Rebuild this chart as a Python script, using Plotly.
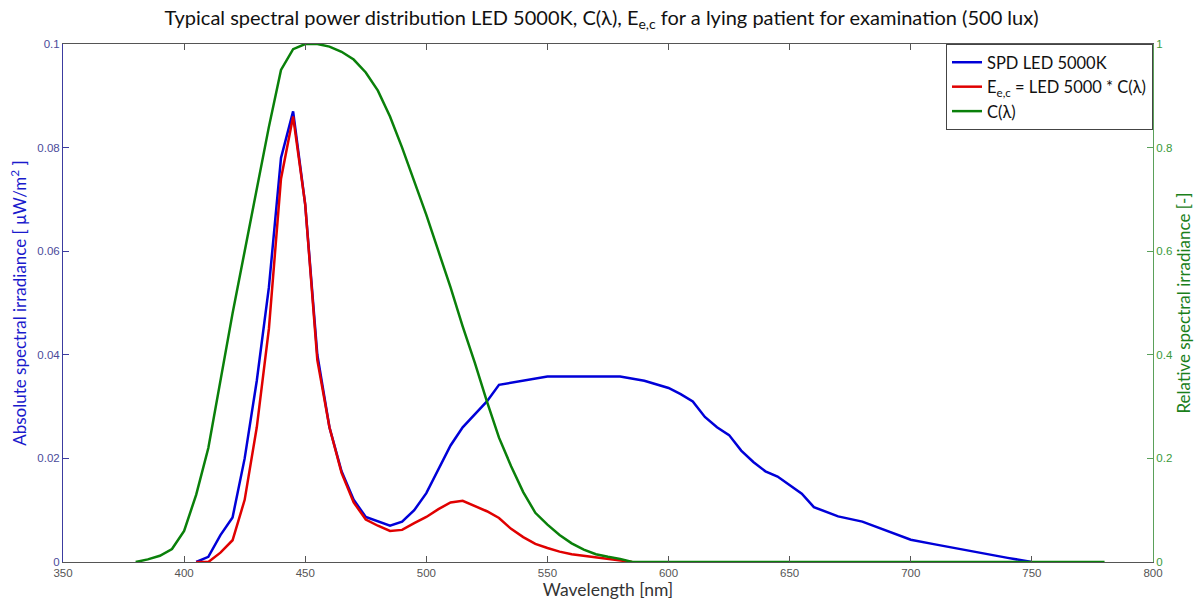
import plotly.graph_objects as go

# Wavelength grids
wl_spd = [405, 410, 415, 420, 425, 430, 435, 440, 445, 450, 455, 460, 465, 470, 475, 480, 485, 490,
          495, 500, 505, 510, 515, 520, 525, 530, 535, 540, 545, 550, 560, 570, 580, 590, 600, 605,
          610, 615, 620, 625, 630, 635, 640, 645, 650, 655, 660, 670, 680, 690, 700, 710, 720, 730,
          740, 750]
spd = [0.0, 0.001, 0.0052, 0.0086, 0.020, 0.035, 0.053, 0.078, 0.087, 0.069, 0.040, 0.026, 0.0175,
       0.012, 0.0087, 0.0078, 0.007, 0.0078, 0.010, 0.0133, 0.018, 0.0225, 0.026, 0.0284, 0.031,
       0.0342, 0.0346, 0.035, 0.0355, 0.0358, 0.0358, 0.0358, 0.0358, 0.035, 0.0336, 0.0324, 0.031,
       0.028, 0.026, 0.0245, 0.0215, 0.0193, 0.0175, 0.0165, 0.0148, 0.0132, 0.0106, 0.0088, 0.0078,
       0.006, 0.0043, 0.0034, 0.0025, 0.0016, 0.0008, 0.0]

wl_ec = [405, 410, 415, 420, 425, 430, 435, 440, 445, 450, 455, 460, 465, 470, 475, 480, 485, 490,
         495, 500, 505, 510, 515, 520, 525, 530, 535, 540, 545, 550, 555, 560, 565, 570, 575, 580, 585]
ec = [0.0, 0.0, 0.0018, 0.0042, 0.012, 0.026, 0.045, 0.074, 0.086, 0.069, 0.039, 0.026, 0.0172,
      0.0115, 0.0082, 0.007, 0.006, 0.0062, 0.0075, 0.0087, 0.0102, 0.0115, 0.0118, 0.0108, 0.0098,
      0.0085, 0.0064, 0.0048, 0.0035, 0.0027, 0.002, 0.0015, 0.0012, 0.0009, 0.0006, 0.0003, 0.0]

wl_c = [380, 385, 390, 395, 400, 405, 410, 415, 420, 425, 430, 435, 440, 445, 450, 455, 460, 465,
        470, 475, 480, 485, 490, 495, 500, 505, 510, 515, 520, 525, 530, 535, 540, 545, 550, 555,
        560, 565, 570, 575, 580, 585, 600, 650, 700, 750, 780]
c_lambda = [0.0, 0.005, 0.012, 0.025, 0.06, 0.13, 0.22, 0.35, 0.48, 0.6, 0.72, 0.84, 0.95, 0.99,
            1.0, 1.0, 0.995, 0.985, 0.97, 0.945, 0.91, 0.86, 0.8, 0.735, 0.67, 0.6, 0.53, 0.455,
            0.385, 0.31, 0.24, 0.185, 0.135, 0.095, 0.072, 0.052, 0.036, 0.024, 0.015, 0.01, 0.006,
            0.0, 0.0, 0.0, 0.0, 0.0, 0.0]

x_ticks = [350, 400, 450, 500, 550, 600, 650, 700, 750, 800]
y1_ticks = [0, 0.02, 0.04, 0.06, 0.08, 0.1]
y1_labels = ["0", "0.02", "0.04", "0.06", "0.08", "0.1"]
y2_ticks = [0, 0.2, 0.4, 0.6, 0.8, 1]
y2_labels = ["0", "0.2", "0.4", "0.6", "0.8", "1"]

BLUE = "#0000d8"
RED = "#e00000"
GREEN = "#0a800a"
TXT_FONT = "Lato, 'Open Sans', sans-serif"
TICK_FONT = "'Liberation Sans', Arial, sans-serif"

fig = go.Figure()
fig.add_trace(go.Scatter(x=wl_spd, y=spd, mode="lines", name="SPD LED 5000K",
                         line=dict(color=BLUE, width=2.5)))
fig.add_trace(go.Scatter(x=wl_ec, y=ec, mode="lines", name="E<sub>e,c</sub> = LED 5000 * C(λ)",
                         line=dict(color=RED, width=2.5)))
fig.add_trace(go.Scatter(x=wl_c, y=c_lambda, mode="lines", name="C(λ)", yaxis="y2",
                         line=dict(color=GREEN, width=2.5)))

fig.update_layout(
    width=1203, height=602,
    paper_bgcolor="white", plot_bgcolor="white",
    margin=dict(l=63, r=50, t=44, b=40),
    title=dict(text="Typical spectral power distribution LED 5000K, C(λ), E<sub>e,c</sub> for a lying patient for examination (500 lux)",
               x=0.5, xanchor="center", y=0.97, yanchor="middle",
               font=dict(family=TXT_FONT, size=20, color="#111")),
    xaxis=dict(range=[350, 800], tickvals=x_ticks, ticks="inside", ticklen=6, automargin=False,
               tickcolor="#555", showline=True, linecolor="#555", linewidth=1, mirror="ticks",
               showgrid=False, zeroline=False,
               tickfont=dict(family=TICK_FONT, size=11.5, color="#555"),
               title=dict(text="Wavelength [nm]", standoff=0,
                          font=dict(family=TXT_FONT, size=17.5, color="#333"))),
    yaxis=dict(range=[0, 0.1], tickvals=y1_ticks, ticktext=y1_labels, ticks="inside", ticklen=6,
               automargin=False,
               tickcolor="#3c3ca0", showline=True, linecolor="#3c3ca0", linewidth=1,
               showgrid=False, zeroline=False,
               tickfont=dict(family=TICK_FONT, size=11.5, color="#4a4a9a"),
               title=dict(text="Absolute spectral irradiance [ μW/m<sup>2</sup> ]", standoff=6,
                          font=dict(family=TXT_FONT, size=17, color="#1a1acc"))),
    yaxis2=dict(range=[0, 1], tickvals=y2_ticks, ticktext=y2_labels, ticks="inside", ticklen=6,
                overlaying="y", side="right", anchor="x", automargin=False,
                tickcolor="#5aa05a", showline=True, linecolor="#5aa05a", linewidth=1,
                showgrid=False, zeroline=False,
                tickfont=dict(family=TICK_FONT, size=11.5, color="#3a9a3a"),
                title=dict(text="Relative spectral irradiance [-]", standoff=6,
                           font=dict(family=TXT_FONT, size=17, color="#1a801a"))),
    legend=dict(x=1, xanchor="right", y=1, yanchor="top", bgcolor="white",
                bordercolor="#444", borderwidth=1,
                font=dict(family=TXT_FONT, size=16.5, color="#111"),
                tracegroupgap=0),
    showlegend=True,
)

fig.write_html("out.html", config={"displayModeBar": False},
               post_script="document.body.style.margin='0px';document.body.style.overflow='hidden';")
